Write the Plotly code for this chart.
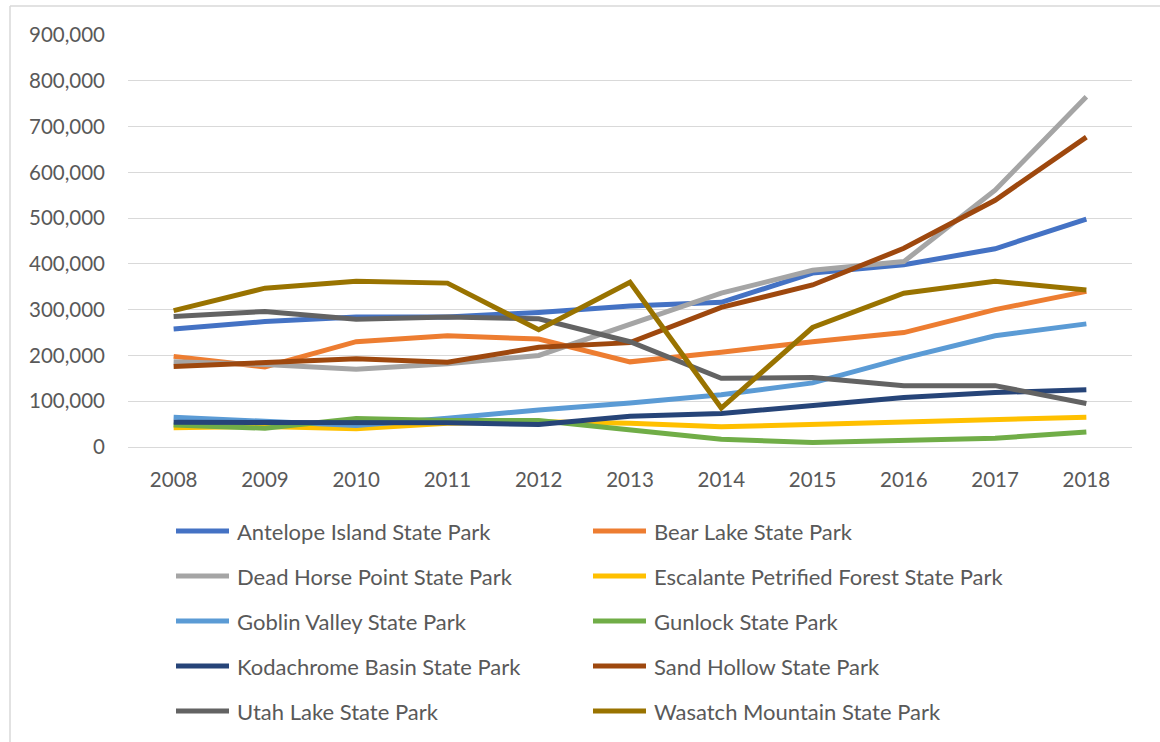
import plotly.graph_objects as go

years = ["2008", "2009", "2010", "2011", "2012", "2013", "2014", "2015", "2016", "2017", "2018"]

park_names = [
    "Antelope Island State Park",
    "Bear Lake State Park",
    "Dead Horse Point State Park",
    "Escalante Petrified Forest State Park",
    "Goblin Valley State Park",
    "Gunlock State Park",
    "Kodachrome Basin State Park",
    "Sand Hollow State Park",
    "Utah Lake State Park",
    "Wasatch Mountain State Park",
]

antelope_island = [258000, 274000, 284000, 284000, 294000, 308000, 316000, 380000, 398000, 433000, 498000]
bear_lake = [198000, 175000, 230000, 243000, 236000, 186000, 207000, 230000, 250000, 300000, 340000]
dead_horse_point = [186000, 180000, 170000, 182000, 200000, 268000, 336000, 386000, 405000, 561000, 765000]
escalante = [42000, 45000, 40000, 52000, 55000, 52000, 44000, 49000, 54000, 60000, 65000]
goblin_valley = [65000, 55000, 47000, 63000, 81000, 96000, 114000, 140000, 194000, 243000, 269000]
gunlock = [48000, 41000, 62000, 58000, 58000, 37000, 17000, 10000, 14000, 19000, 33000]
kodachrome = [54000, 53000, 53000, 53000, 49000, 67000, 73000, 91000, 108000, 119000, 125000]
sand_hollow = [176000, 184000, 193000, 185000, 218000, 228000, 305000, 354000, 434000, 539000, 677000]
utah_lake = [285000, 296000, 279000, 284000, 280000, 230000, 150000, 152000, 134000, 134000, 95000]
wasatch = [298000, 347000, 362000, 358000, 256000, 360000, 85000, 261000, 336000, 362000, 343000]

series = [antelope_island, bear_lake, dead_horse_point, escalante, goblin_valley,
          gunlock, kodachrome, sand_hollow, utah_lake, wasatch]

colors = ["#4472C4", "#ED7D31", "#A5A5A5", "#FFC000", "#5B9BD5",
          "#70AD47", "#264478", "#9E480E", "#636363", "#997300"]

y_ticks = [0, 100000, 200000, 300000, 400000, 500000, 600000, 700000, 800000, 900000]

FONT = "Lato"
TEXT_COLOR = "#595959"
GRID = "#D9D9D9"

W, H = 1160, 742
ML, MR, MT, MB = 128, 28, 35, 295
PW = W - ML - MR
PH = H - MT - MB


def px_x(x):
    return (x - ML) / PW


def px_y(y):
    return (H - MB - y) / PH


fig = go.Figure()
for name, vals, col in zip(park_names, series, colors):
    fig.add_trace(go.Scatter(
        x=years, y=vals, name=name, mode="lines",
        line=dict(color=col, width=5),
        showlegend=False,
    ))

shapes = []
annotations = []
# chart border (top and left edges visible)
shapes.append(dict(type="line", xref="paper", yref="paper",
                   x0=px_x(10), x1=px_x(W + 5), y0=px_y(6), y1=px_y(6),
                   line=dict(color=GRID, width=1.5)))
shapes.append(dict(type="line", xref="paper", yref="paper",
                   x0=px_x(10), x1=px_x(10), y0=px_y(6), y1=px_y(H + 5),
                   line=dict(color=GRID, width=1.5)))

# manual two-column legend
col_line_x = [(176, 229), (593, 646)]
col_text_x = [235, 652]
row_y = [531, 576, 621, 666, 711]
for i, (name, col) in enumerate(zip(park_names, colors)):
    r, c = divmod(i, 2)
    y = px_y(row_y[r])
    shapes.append(dict(type="line", xref="paper", yref="paper",
                       x0=px_x(col_line_x[c][0]), x1=px_x(col_line_x[c][1]),
                       y0=y, y1=y, line=dict(color=col, width=5)))
    annotations.append(dict(xref="paper", yref="paper", x=px_x(col_text_x[c]), y=y,
                            text=name, showarrow=False, xanchor="left", yanchor="middle",
                            font=dict(family=FONT, size=22, color=TEXT_COLOR)))

fig.update_layout(
    width=W, height=H,
    margin=dict(l=ML, r=MR, t=MT, b=MB, pad=0),
    paper_bgcolor="white", plot_bgcolor="white",
    font=dict(family=FONT, size=20.5, color=TEXT_COLOR),
    shapes=shapes,
    annotations=annotations,
    xaxis=dict(
        type="category", range=[-0.5, 10.5],
        showgrid=False, showline=False, zeroline=False,
        ticks="", ticklabelstandoff=18,
        tickfont=dict(family=FONT, size=20.5, color=TEXT_COLOR),
    ),
    yaxis=dict(
        range=[0, 900000], tickvals=y_ticks, tickformat=",",
        showgrid=True, gridcolor=GRID, gridwidth=1.3,
        zeroline=True, zerolinecolor=GRID, zerolinewidth=1.3,
        showline=False, ticks="", ticklabelstandoff=22,
        tickfont=dict(family=FONT, size=20.5, color=TEXT_COLOR),
    ),
)

fig.write_html("out.html", config={"displayModeBar": False},
               post_script="document.body.style.margin='0px';")
